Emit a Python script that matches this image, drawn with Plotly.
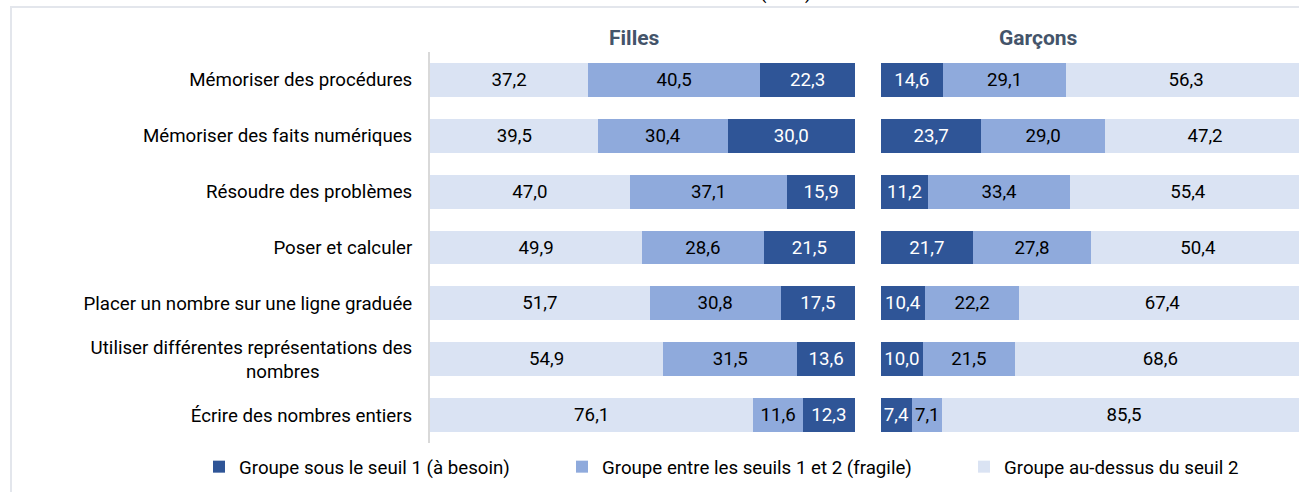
import plotly.graph_objects as go

categories = [
    "Mémoriser des procédures",
    "Mémoriser des faits numériques",
    "Résoudre des problèmes",
    "Poser et calculer",
    "Placer un nombre sur une ligne graduée",
    "Utiliser différentes représentations des<br>nombres" + "\u00a0" * 20,
    "Écrire des nombres entiers",
]
filles_sous = [22.3, 30.0, 15.9, 21.5, 17.5, 13.6, 12.3]
filles_entre = [40.5, 30.4, 37.1, 28.6, 30.8, 31.5, 11.6]
filles_dessus = [37.2, 39.5, 47.0, 49.9, 51.7, 54.9, 76.1]
garcons_sous = [14.6, 23.7, 11.2, 21.7, 10.4, 10.0, 7.4]
garcons_entre = [29.1, 29.0, 33.4, 27.8, 22.2, 21.5, 7.1]
garcons_dessus = [56.3, 47.2, 55.4, 50.4, 67.4, 68.6, 85.5]
series_names = [
    "Groupe sous le seuil 1 (à besoin)",
    "Groupe entre les seuils 1 et 2 (fragile)",
    "Groupe au-dessus du seuil 2",
]
panel_titles = ["Filles", "Garçons"]

colors = ["#2F5597", "#8FAADC", "#DAE3F3"]
text_colors = ["#FFFFFF", "#000000", "#000000"]
FONT = "Roboto"
FS = 18.7

W, H = 1299, 492
L, R, T, B = 430, 0, 52, 49
pw = W - L - R
ph = H - T - B


def px_x(p):
    return (p - L) / pw


def px_y(p):
    return (H - B - p) / ph


def fmt(v):
    return f"{v:.1f}".replace(".", ",")


fig = go.Figure()
legends = ["legend", "legend2", "legend3"]
filles = [filles_sous, filles_entre, filles_dessus]
garcons = [garcons_sous, garcons_entre, garcons_dessus]
for i in range(3):
    fig.add_trace(go.Bar(
        y=categories, x=filles[i], orientation="h", name=series_names[i],
        marker=dict(color=colors[i], line=dict(width=0)),
        text=[fmt(v) for v in filles[i]], textposition="inside",
        insidetextanchor="middle", constraintext="none", textangle=0,
        textfont=dict(family=FONT, size=FS, color=text_colors[i]),
        xaxis="x", yaxis="y", legend=legends[i], showlegend=True,
        hoverinfo="skip",
    ))
for i in range(3):
    fig.add_trace(go.Bar(
        y=categories, x=garcons[i], orientation="h", name=series_names[i],
        marker=dict(color=colors[i], line=dict(width=0)),
        text=[fmt(v) for v in garcons[i]], textposition="inside",
        insidetextanchor="middle", constraintext="none", textangle=0,
        textfont=dict(family=FONT, size=FS, color=text_colors[i]),
        xaxis="x2", yaxis="y2", showlegend=False,
        hoverinfo="skip",
    ))

g_start = 880.7
scale = 425 / 100.0
g_max = (W - g_start) / scale

fig.update_layout(
    width=W, height=H,
    margin=dict(l=L, r=R, t=T, b=B, autoexpand=False),
    paper_bgcolor="white", plot_bgcolor="white",
    barmode="stack", bargap=0.392,
    font=dict(family=FONT, size=FS, color="#000000"),
    xaxis=dict(domain=[0, 425 / pw], range=[100, 0], showgrid=False,
               zeroline=False, showticklabels=False, fixedrange=True),
    xaxis2=dict(domain=[px_x(g_start), 1], range=[0, g_max], showgrid=False,
                zeroline=False, showticklabels=False, fixedrange=True),
    yaxis=dict(autorange="reversed", showline=True, linecolor="#D9D9D9",
               linewidth=2, ticks="", ticklabelstandoff=12,
               tickfont=dict(family=FONT, size=FS, color="#000000"),
               showgrid=False, zeroline=False),
    yaxis2=dict(autorange="reversed", anchor="x2", matches="y",
                showticklabels=False, showline=False, showgrid=False,
                zeroline=False),
    showlegend=True,
)

leg_common = dict(orientation="h", yanchor="middle", xanchor="left",
                  font=dict(family=FONT, size=FS, color="#000000"),
                  bgcolor="rgba(0,0,0,0)", itemclick=False,
                  itemdoubleclick=False)
leg_pos = [199, 562, 964]
fig.update_layout(
    legend=dict(x=px_x(leg_pos[0]), y=px_y(467), **leg_common),
    legend2=dict(x=px_x(leg_pos[1]), y=px_y(467), **leg_common),
    legend3=dict(x=px_x(leg_pos[2]), y=px_y(467), **leg_common),
)

# panel titles
title_x = [634, 1038]
for t, xp in zip(panel_titles, title_x):
    fig.add_annotation(text=f"<b>{t}</b>", x=px_x(xp), y=px_y(38),
                       xref="paper", yref="paper", showarrow=False,
                       xanchor="center", yanchor="middle",
                       font=dict(family=FONT, size=21, color="#44546A"))

# chart title, cut off at the top edge as in the reference
fig.add_annotation(text="(en %)", x=px_x(785), y=px_y(6), xref="paper",
                   yref="paper", showarrow=False, xanchor="center",
                   yanchor="bottom", font=dict(family=FONT, size=FS,
                                               color="#000000"))

# outer frame
fig.add_shape(type="rect", xref="paper", yref="paper",
              x0=px_x(11), x1=px_x(1320), y0=px_y(7), y1=px_y(510),
              line=dict(color="#E3E6EC", width=2), fillcolor="rgba(0,0,0,0)",
              layer="below")

fig.write_html("out.html",
               config={"displayModeBar": False, "staticPlot": True},
               post_script="document.body.style.margin='0';"
                           "document.body.style.overflow='hidden';")
